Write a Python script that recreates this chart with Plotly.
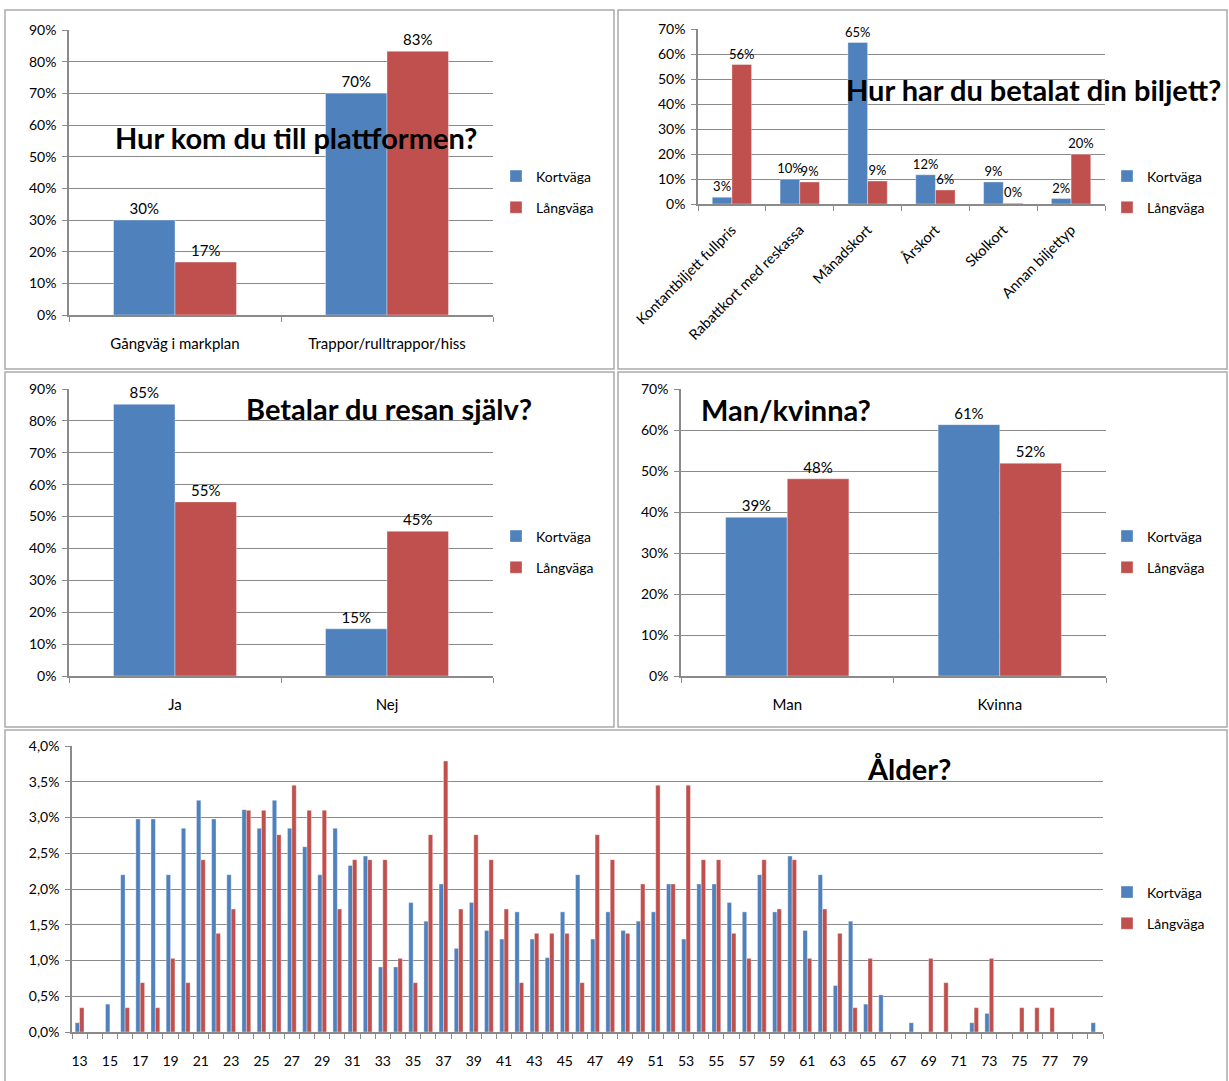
import plotly.graph_objects as go

W, H = 1229, 1081
BLUE = "#4F81BD"
RED = "#C0504D"
GRID = "#8a8a8a"
FONT = "Lato, 'Open Sans', sans-serif"

series_names = ["Kortväga", "Långväga"]

# Hur kom du till plattformen?
cats_a = ["Gångväg i markplan", "Trappor/rulltrappor/hiss"]
kort_a = [30.0, 70.0]
lang_a = [16.7, 83.3]

# Hur har du betalat din biljett?
cats_b = ["Kontantbiljett fullpris", "Rabattkort med reskassa", "Månadskort",
          "Årskort", "Skolkort", "Annan biljettyp"]
kort_b = [2.7, 9.9, 64.6, 11.7, 8.8, 2.2]
lang_b = [55.8, 8.8, 9.2, 5.6, 0.3, 19.9]

# Betalar du resan själv?
cats_c = ["Ja", "Nej"]
kort_c = [85.2, 14.8]
lang_c = [54.6, 45.4]

# Man/kvinna?
cats_d = ["Man", "Kvinna"]
kort_d = [38.7, 61.3]
lang_d = [48.1, 51.9]

# Ålder?
ages = list(range(13, 81))
kort_e = [0.13, 0, 0.39, 2.20, 2.98, 2.98, 2.20, 2.85, 3.24, 2.98,
          2.20, 3.11, 2.85, 3.24, 2.85, 2.59, 2.20, 2.85, 2.33, 2.46,
          0.91, 0.91, 1.81, 1.55, 2.07, 1.17, 1.81, 1.42, 1.30, 1.68,
          1.30, 1.04, 1.68, 2.20, 1.30, 1.68, 1.42, 1.55, 1.68, 2.07,
          1.30, 2.07, 2.07, 1.81, 1.68, 2.20, 1.68, 2.46, 1.42, 2.20,
          0.65, 1.55, 0.39, 0.52, 0, 0.13, 0, 0, 0, 0.13,
          0.26, 0, 0, 0, 0, 0, 0, 0.13]
lang_e = [0.34, 0, 0, 0.34, 0.69, 0.34, 1.03, 0.69, 2.41, 1.38,
          1.72, 3.10, 3.10, 2.76, 3.45, 3.10, 3.10, 1.72, 2.41, 2.41,
          2.41, 1.03, 0.69, 2.76, 3.79, 1.72, 2.76, 2.41, 1.72, 0.69,
          1.38, 1.38, 1.38, 0.69, 2.76, 2.41, 1.38, 2.07, 3.45, 2.07,
          3.45, 2.41, 2.41, 1.38, 1.03, 2.41, 1.72, 2.41, 1.03, 1.72,
          1.38, 0.34, 1.03, 0, 0, 0, 1.03, 0.69, 0, 0.34,
          1.03, 0, 0.34, 0.34, 0.34, 0, 0, 0]
age_labels = [str(a) for a in ages]
age_ticktext = [str(a) if a % 2 else "" for a in ages]

titles = ["Hur kom du till plattformen?", "Hur har du betalat din biljett?",
          "Betalar du resan själv?", "Man/kvinna?", "Ålder?"]


def xd(left, right):
    return [left / W, right / W]


def yd(top, bottom):
    return [1 - bottom / H, 1 - top / H]


fig = go.Figure()

panels = [
    # (categories, kort, lang, axis suffix, legend name, label size)
    (cats_a, kort_a, lang_a, "", "legend", 15),
    (cats_b, kort_b, lang_b, "2", "legend2", 13),
    (cats_c, kort_c, lang_c, "3", "legend3", 15),
    (cats_d, kort_d, lang_d, "4", "legend4", 15),
    (age_labels, kort_e, lang_e, "5", "legend5", None),
]

for cats, kort, lang, sfx, leg, lsize in panels:
    for name, vals, col in zip(series_names, [kort, lang], [BLUE, RED]):
        fig.add_trace(go.Bar(
            x=cats, y=vals, name=name,
            marker=dict(color=col, line=dict(color="rgba(255,255,255,0.45)", width=0.8)),
            xaxis="x" + sfx, yaxis="y" + sfx,
            legend=leg, legendgroup=leg + name,
            texttemplate="%{y:.0f}%" if lsize else None,
            textposition="outside" if lsize else "none",
            constraintext="none",
            textfont=dict(family=FONT, size=lsize or 14, color="#000"),
            cliponaxis=False,
            hoverinfo="x+y",
        ))


def yaxis(domain, rng, dtick, fmt, anchor):
    return dict(domain=domain, range=rng, dtick=dtick, tickformat=fmt,
                ticksuffix="%", showgrid=True, gridcolor=GRID, gridwidth=1.2,
                showline=True, linecolor=GRID, linewidth=1.5,
                ticks="outside", ticklen=5, tickcolor=GRID,
                tickfont=dict(family=FONT, size=14, color="#000"),
                zeroline=False, anchor=anchor,
                ticklabelstandoff=3, fixedrange=True, automargin=False)


def xaxis(domain, anchor, angle=0, size=15, standoff=14):
    return dict(domain=domain, type="category", anchor=anchor,
                showline=True, linecolor=GRID, linewidth=1.5,
                showgrid=False, zeroline=False,
                ticks="outside", tickson="boundaries", ticklen=5,
                tickcolor=GRID, tickfont=dict(family=FONT, size=size, color="#000"),
                tickangle=angle, ticklabelstandoff=standoff,
                fixedrange=True, automargin=False)


ax_e = xaxis(xd(72, 1103), "y5", size=14, standoff=15)
ax_e.update(tickmode="array", tickvals=age_labels, ticktext=age_ticktext)

fig.update_layout(
    template="none",
    width=W, height=H,
    margin=dict(l=0, r=0, t=0, b=0, pad=0, autoexpand=False),
    paper_bgcolor="white", plot_bgcolor="white",
    separators=",.",
    barmode="group", bargap=0.42, bargroupgap=0,
    font=dict(family=FONT, color="#000"),
    showlegend=True,
    xaxis=xaxis(xd(69, 493), "y"),
    yaxis=yaxis(yd(30, 315), [0, 90], 10, ".0f", "x"),
    xaxis2=xaxis(xd(698, 1105), "y2", -45, 14.5, 10),
    yaxis2=yaxis(yd(29, 204), [0, 70], 10, ".0f", "x2"),
    xaxis3=xaxis(xd(69, 493), "y3"),
    yaxis3=yaxis(yd(389, 676), [0, 90], 10, ".0f", "x3"),
    xaxis4=xaxis(xd(681, 1106), "y4"),
    yaxis4=yaxis(yd(389, 676), [0, 70], 10, ".0f", "x4"),
    xaxis5=ax_e,
    yaxis5=yaxis(yd(746, 1032), [0, 4], 0.5, ".1f", "x5"),
    hovermode="closest",
)

# one legend per panel
legend_pos = {
    "legend": (496, 192),
    "legend2": (1107, 192),
    "legend3": (496, 552),
    "legend4": (1107, 552),
    "legend5": (1107, 908),
}
for leg, (lx, ly) in legend_pos.items():
    fig.update_layout({leg: dict(
        x=lx / W, y=1 - ly / H, xanchor="left", yanchor="middle",
        xref="paper", yref="paper",
        font=dict(family=FONT, size=14, color="#000"),
        bgcolor="rgba(0,0,0,0)", borderwidth=0,
        tracegroupgap=10, itemclick=False, itemdoubleclick=False,
    )})

# panel frames
frames = [(5, 10, 614, 369), (618, 10, 1227, 369),
          (5, 372, 614, 727), (618, 372, 1227, 727),
          (5, 730, 1227, 1090)]
for x0, y0, x1, y1 in frames:
    fig.add_shape(type="rect", xref="paper", yref="paper",
                  x0=x0 / W, x1=x1 / W, y0=1 - y1 / H, y1=1 - y0 / H,
                  line=dict(color="#ababab", width=1.5), layer="below")

# chart titles
title_pos = [(296, 137), (1033, 90), (389, 408), (786, 409), (909, 768)]
for text, (tx, ty) in zip(titles, title_pos):
    fig.add_annotation(text="<b>" + text + "</b>", x=tx / W, y=1 - ty / H,
                       xref="paper", yref="paper", xanchor="center",
                       yanchor="middle", showarrow=False,
                       font=dict(family=FONT, size=29, color="#000"))

fig.write_html("out.html")
